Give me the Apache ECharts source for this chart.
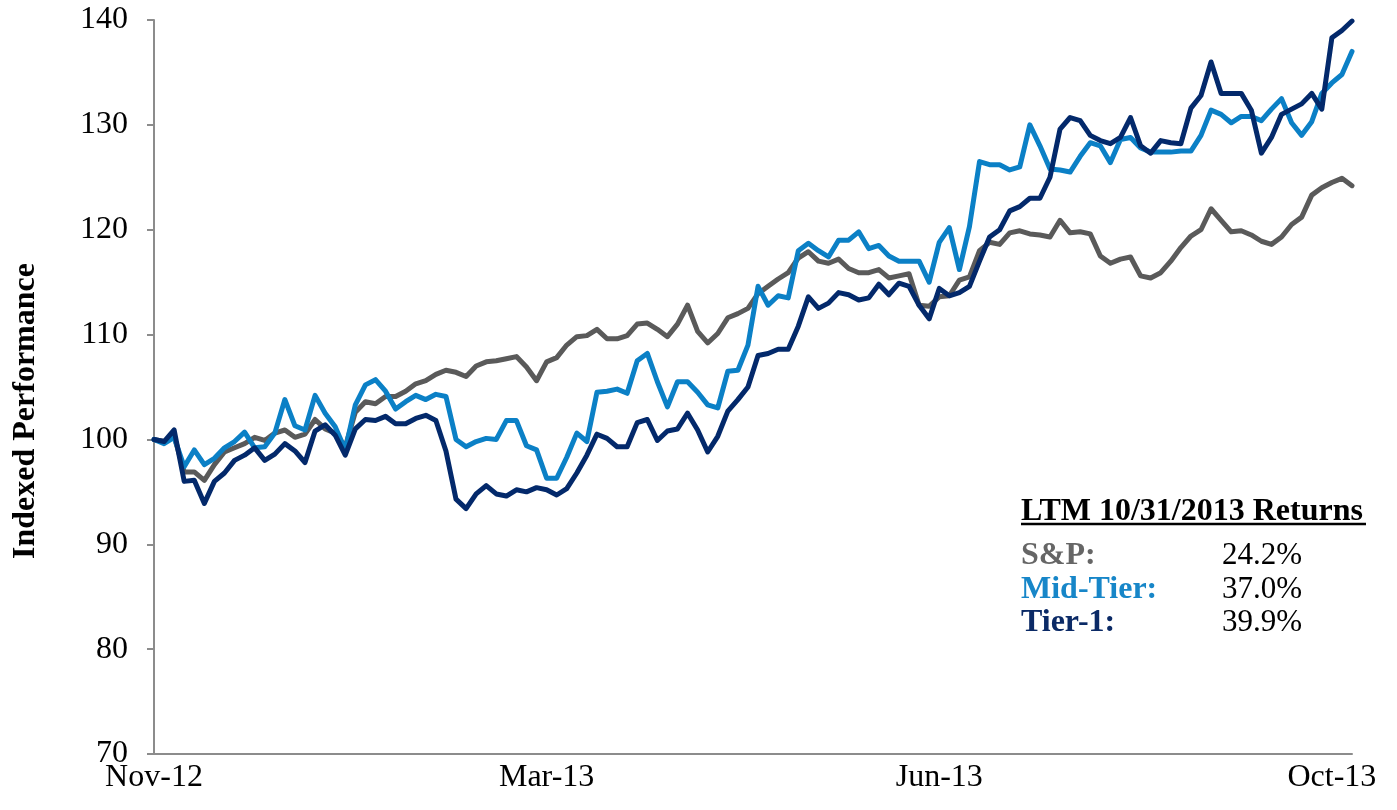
<!DOCTYPE html>
<html><head><meta charset="utf-8">
<script src="https://cdn.jsdelivr.net/npm/echarts@6/dist/echarts.min.js"></script>
<style>html,body{margin:0;padding:0;background:#fff}#c{width:1397px;height:810px}</style>
</head><body><div id="c"></div>
<script>
const tickLabels = ['Nov-12','Mar-13','Jun-13','Oct-13'];
const tickIdx = [0,39,78,117];
const yTicks = [70,80,90,100,110,120,130,140];

const sp = [100,99.8,100.3,96.9,96.9,96.1,97.6,98.8,99.2,99.6,
100.2,99.9,100.6,100.9,100.2,100.5,101.9,101.0,100.6,99.3,
102.6,103.6,103.4,104.1,104.1,104.6,105.3,105.6,106.2,106.6,
106.4,106.0,107.0,107.4,107.5,107.7,107.9,106.9,105.6,107.4,
107.8,109.0,109.8,109.9,110.5,109.6,109.6,109.9,111.0,111.1,
110.5,109.8,111.0,112.8,110.3,109.2,110.1,111.6,112.0,112.5,
113.9,114.6,115.3,115.9,117.3,117.9,117.0,116.8,117.2,116.3,
115.9,115.9,116.2,115.4,115.6,115.8,112.8,112.7,113.6,113.7,
115.2,115.5,118.0,118.8,118.6,119.7,119.9,119.6,119.5,119.3,
120.9,119.7,119.8,119.6,117.5,116.8,117.2,117.4,115.6,115.4,
115.9,117.0,118.3,119.4,120.0,122.0,120.9,119.8,119.9,119.5,
118.9,118.6,119.3,120.5,121.2,123.3,124.0,124.5,124.9,124.2];

const midTier = [100,99.6,100.2,97.4,99.0,97.6,98.2,99.2,99.8,100.7,
99.2,99.3,100.6,103.8,101.3,100.9,104.2,102.5,101.2,99.0,
103.3,105.2,105.7,104.6,102.9,103.6,104.2,103.8,104.3,104.1,
100.0,99.3,99.8,100.1,100.0,101.8,101.8,99.4,99.0,96.3,
96.3,98.3,100.6,99.8,104.5,104.6,104.8,104.4,107.5,108.2,
105.5,103.1,105.5,105.5,104.5,103.3,103.0,106.5,106.6,109.0,
114.6,112.8,113.7,113.5,118.0,118.7,118.0,117.4,119.0,119.0,
119.8,118.2,118.5,117.5,117.0,117.0,117.0,115.0,118.8,120.2,
116.2,120.3,126.5,126.2,126.2,125.7,126.0,130.0,128.0,125.8,
125.7,125.5,127.0,128.3,128.0,126.4,128.6,128.8,127.8,127.4,
127.4,127.4,127.5,127.5,129.0,131.4,131.0,130.2,130.8,130.8,
130.4,131.5,132.5,130.2,129.0,130.3,133.0,134.0,134.8,137.0];

const tier1 = [100,99.8,100.9,96.0,96.1,93.9,96.0,96.8,98.0,98.5,
99.2,98.0,98.6,99.6,98.9,97.8,100.8,101.4,100.4,98.5,
101.0,101.9,101.8,102.2,101.5,101.5,102.0,102.3,101.8,98.9,
94.3,93.4,94.8,95.6,94.8,94.6,95.2,95.0,95.4,95.2,
94.7,95.3,96.8,98.5,100.5,100.1,99.3,99.3,101.6,101.9,
99.9,100.8,101.0,102.5,100.9,98.8,100.3,102.7,103.8,105.0,
108.0,108.2,108.6,108.6,110.8,113.6,112.5,113.0,114.0,113.8,
113.3,113.5,114.8,113.8,114.9,114.6,112.8,111.5,114.4,113.7,
114.0,114.6,117.0,119.3,120.0,121.8,122.2,123.0,123.0,125.0,
129.6,130.7,130.4,129.0,128.5,128.2,128.8,130.7,128.0,127.3,
128.5,128.3,128.2,131.6,132.8,136.0,133.0,133.0,133.0,131.4,
127.3,128.8,131.0,131.5,132.0,133.0,131.5,138.3,139.0,139.9];

const legendNames = ['S&P:','Mid-Tier:','Tier-1:'];
const legendValues = ['24.2%','37.0%','39.9%'];
const legendTitle = 'LTM 10/31/2013 Returns';
const yTitle = 'Indexed Performance';

const colors = ['#5a5a5a','#0b80c6','#03296b'];
const textColors = ['#666666','#1786c8','#0b2a66'];
const FONT = "'Liberation Serif','Times New Roman',serif";

const categories = sp.map((_, i) => i);

const chart = echarts.init(document.getElementById('c'), null, {renderer:'canvas'});

const graphics = [
  {type:'text', x:26, y:411, rotation:Math.PI/2,
   style:{text:yTitle, font:"bold 32px "+FONT, fill:'#000', align:'center', verticalAlign:'middle'}},
  {type:'text', x:1021, y:512,
   style:{text:legendTitle, font:"bold 32px "+FONT, fill:'#000', align:'left', verticalAlign:'middle'}},
  {type:'line', shape:{x1:1021, y1:524, x2:1366, y2:524}, style:{stroke:'#000', lineWidth:2.5}}
];
const rowY = [556,590,623];
legendNames.forEach((n, i) => {
  graphics.push({type:'text', x:1021, y:rowY[i],
    style:{text:n, font:"bold 32px "+FONT, fill:textColors[i], align:'left', verticalAlign:'middle'}});
  graphics.push({type:'text', x:1222, y:rowY[i],
    style:{text:legendValues[i], font:"31px "+FONT, fill:'#000', align:'left', verticalAlign:'middle'}});
});

const names = ['S&P','Mid-Tier','Tier-1'];
const datas = [sp, midTier, tier1];

chart.setOption({
  animation:false,
  backgroundColor:'#fff',
  grid:{left:154, right:45, top:20, bottom:56},
  xAxis:{
    type:'category', data:categories, boundaryGap:false,
    axisLine:{lineStyle:{color:'#8c8c8c', width:2}},
    axisTick:{show:false},
    axisLabel:{interval:0, margin:8, color:'#000', fontFamily:FONT, fontSize:32,
      formatter:(v) => { const k = tickIdx.indexOf(Number(v)); return k >= 0 ? tickLabels[k] : ''; }},
    splitLine:{show:false}
  },
  yAxis:{
    type:'value', min:70, max:140, interval:10,
    axisLine:{show:true, lineStyle:{color:'#8c8c8c', width:2}},
    axisTick:{show:true, length:7, lineStyle:{color:'#8c8c8c', width:2}},
    axisLabel:{margin:26, color:'#000', fontFamily:FONT, fontSize:32,
      formatter:(v) => yTicks.includes(v) ? String(v) : ''},
    splitLine:{show:false}
  },
  series: datas.map((d, i) => ({
    name:names[i], type:'line', data:d, showSymbol:false, smooth:false,
    lineStyle:{color:colors[i], width:5, join:'round', cap:'round'},
    itemStyle:{color:colors[i]}, z:2+i
  })),
  graphic: graphics
});
</script>
</body></html>
